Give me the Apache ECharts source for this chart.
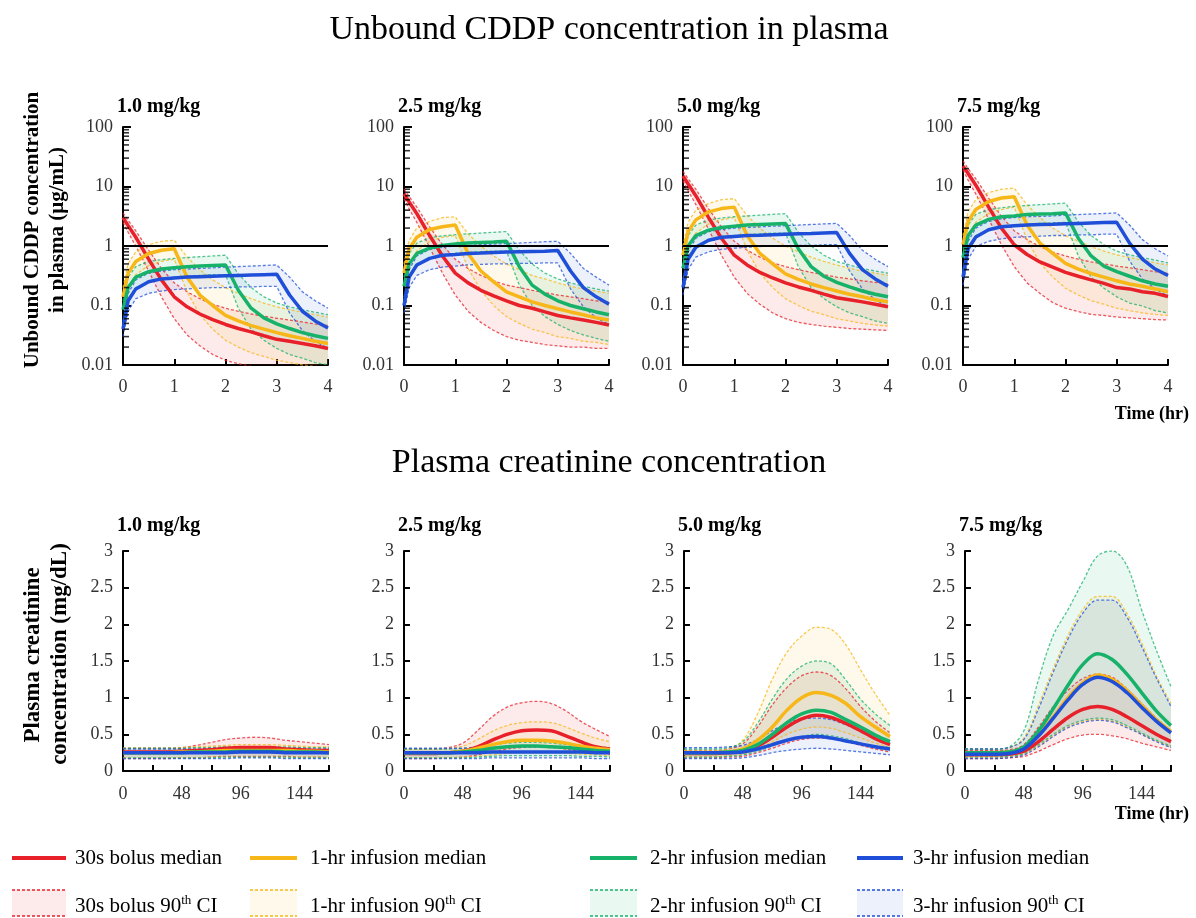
<!DOCTYPE html>
<html>
<head>
<meta charset="utf-8">
<script src="https://cdn.jsdelivr.net/npm/echarts@6/dist/echarts.min.js"></script>
<style>html,body{margin:0;padding:0;background:#fff}#c{width:1196px;height:918px}</style>
</head>
<body>
<div id="c"></div>
<script>
// ---------------- DATA ----------------
const doseTitles = ['1.0 mg/kg', '2.5 mg/kg', '5.0 mg/kg', '7.5 mg/kg'];
const regimenNames = ['30s bolus', '1-hr infusion', '2-hr infusion', '3-hr infusion'];
const cddpTime = [0, 0.1, 0.25, 0.5, 0.75, 1, 1.25, 1.5, 1.75, 2, 2.25, 2.5, 2.75, 3, 3.25, 3.5, 3.75, 4];
const creaTime = [0, 12, 24, 36, 48, 60, 72, 84, 96, 108, 120, 132, 144, 156, 168];
const logMinorTicks = [0.02,0.03,0.04,0.05,0.06,0.07,0.08,0.09,0.2,0.3,0.4,0.5,0.6,0.7,0.8,0.9,2,3,4,5,6,7,8,9,20,30,40,50,60,70,80,90];
const thresholdLine = 1;

// Unbound CDDP (ug/mL), 1.0 mg/kg
const cddp10BolusMed = [3.0,2.2,1.4,0.6,0.27,0.14,0.095,0.072,0.058,0.048,0.041,0.036,0.031,0.027,0.025,0.023,0.021,0.019];
const cddp10BolusLo  = [2.5,1.7,1.0,0.38,0.14,0.06,0.032,0.021,0.015,0.012,0.0105,0.0095,0.009,0.0085,0.0082,0.008,0.0078,0.0076];
const cddp10BolusHi  = [3.6,2.7,1.8,0.85,0.42,0.24,0.17,0.13,0.105,0.09,0.08,0.072,0.066,0.061,0.057,0.053,0.049,0.046];
const cddp10Inf1Med  = [0.14,0.35,0.55,0.75,0.85,0.9,0.3,0.15,0.1,0.068,0.055,0.046,0.04,0.035,0.031,0.028,0.025,0.023];
const cddp10Inf1Lo   = [0.09,0.2,0.33,0.47,0.55,0.6,0.17,0.07,0.04,0.026,0.02,0.016,0.014,0.012,0.011,0.01,0.0095,0.009];
const cddp10Inf1Hi   = [0.2,0.5,0.8,1.05,1.2,1.25,0.65,0.4,0.27,0.2,0.16,0.13,0.11,0.095,0.085,0.077,0.07,0.064];
const cddp10Inf2Med  = [0.085,0.2,0.3,0.37,0.41,0.43,0.45,0.46,0.47,0.48,0.18,0.09,0.062,0.049,0.041,0.035,0.031,0.028];
const cddp10Inf2Lo   = [0.055,0.13,0.2,0.25,0.28,0.3,0.31,0.32,0.33,0.33,0.09,0.04,0.026,0.019,0.015,0.013,0.011,0.01];
const cddp10Inf2Hi   = [0.12,0.3,0.45,0.55,0.59,0.62,0.64,0.66,0.68,0.7,0.34,0.2,0.14,0.11,0.095,0.085,0.077,0.07];
const cddp10Inf3Med  = [0.04,0.12,0.19,0.25,0.28,0.29,0.3,0.305,0.31,0.315,0.32,0.325,0.33,0.335,0.15,0.08,0.055,0.042];
const cddp10Inf3Lo   = [0.03,0.08,0.13,0.16,0.175,0.185,0.19,0.195,0.2,0.2,0.205,0.205,0.21,0.21,0.075,0.038,0.025,0.019];
const cddp10Inf3Hi   = [0.05,0.16,0.27,0.35,0.38,0.4,0.41,0.42,0.43,0.44,0.45,0.46,0.47,0.48,0.3,0.17,0.12,0.09];

// 2.5 mg/kg
const cddp25BolusMed = [7.5,5.5,3.5,1.5,0.68,0.35,0.24,0.18,0.145,0.12,0.1,0.09,0.078,0.068,0.062,0.057,0.052,0.047];
const cddp25BolusLo  = [6.2,4.2,2.5,0.95,0.35,0.15,0.08,0.052,0.038,0.03,0.026,0.024,0.022,0.021,0.02,0.02,0.019,0.019];
const cddp25BolusHi  = [9,6.8,4.5,2.1,1.05,0.6,0.42,0.32,0.26,0.22,0.2,0.18,0.165,0.15,0.14,0.13,0.12,0.115];
const cddp25Inf1Med  = [0.35,0.88,1.4,1.9,2.1,2.25,0.75,0.38,0.25,0.17,0.14,0.115,0.1,0.088,0.078,0.07,0.062,0.057];
const cddp25Inf1Lo   = [0.22,0.5,0.82,1.2,1.4,1.5,0.42,0.18,0.1,0.065,0.05,0.04,0.035,0.03,0.028,0.025,0.024,0.022];
const cddp25Inf1Hi   = [0.5,1.25,2.0,2.6,3.0,3.1,1.6,1.0,0.68,0.5,0.4,0.32,0.28,0.24,0.21,0.19,0.175,0.16];
const cddp25Inf2Med  = [0.21,0.5,0.75,0.92,1.02,1.08,1.12,1.15,1.17,1.2,0.45,0.22,0.155,0.12,0.1,0.088,0.078,0.07];
const cddp25Inf2Lo   = [0.14,0.32,0.5,0.62,0.7,0.75,0.78,0.8,0.82,0.82,0.22,0.1,0.065,0.048,0.038,0.032,0.028,0.025];
const cddp25Inf2Hi   = [0.3,0.75,1.12,1.38,1.48,1.55,1.6,1.65,1.7,1.75,0.85,0.5,0.35,0.28,0.24,0.21,0.19,0.175];
const cddp25Inf3Med  = [0.1,0.3,0.48,0.62,0.7,0.72,0.75,0.76,0.78,0.79,0.8,0.81,0.82,0.84,0.38,0.2,0.14,0.105];
const cddp25Inf3Lo   = [0.075,0.2,0.32,0.4,0.44,0.46,0.48,0.49,0.5,0.5,0.51,0.51,0.52,0.52,0.19,0.095,0.062,0.048];
const cddp25Inf3Hi   = [0.125,0.4,0.68,0.88,0.95,1.0,1.02,1.05,1.08,1.1,1.12,1.15,1.18,1.2,0.75,0.42,0.3,0.22];

// 5.0 mg/kg
const cddp50BolusMed = [15,11,7,3,1.35,0.7,0.48,0.36,0.29,0.24,0.205,0.18,0.155,0.135,0.125,0.115,0.105,0.095];
const cddp50BolusLo  = [12.5,8.5,5,1.9,0.7,0.3,0.16,0.105,0.075,0.06,0.052,0.048,0.045,0.043,0.041,0.04,0.039,0.038];
const cddp50BolusHi  = [18,13.5,9,4.2,2.1,1.2,0.85,0.65,0.52,0.45,0.4,0.36,0.33,0.3,0.28,0.26,0.245,0.23];
const cddp50Inf1Med  = [0.7,1.75,2.75,3.75,4.25,4.5,1.5,0.75,0.5,0.34,0.275,0.23,0.2,0.175,0.155,0.14,0.125,0.115];
const cddp50Inf1Lo   = [0.45,1.0,1.65,2.35,2.75,3.0,0.85,0.35,0.2,0.13,0.1,0.08,0.07,0.06,0.055,0.05,0.047,0.045];
const cddp50Inf1Hi   = [1.0,2.5,4.0,5.2,6.0,6.25,3.25,2.0,1.35,1.0,0.8,0.65,0.55,0.48,0.42,0.38,0.35,0.32];
const cddp50Inf2Med  = [0.42,1.0,1.5,1.85,2.05,2.15,2.25,2.3,2.35,2.4,0.9,0.45,0.31,0.245,0.205,0.175,0.155,0.14];
const cddp50Inf2Lo   = [0.28,0.65,1.0,1.25,1.4,1.5,1.55,1.6,1.65,1.65,0.45,0.2,0.13,0.095,0.075,0.065,0.055,0.05];
const cddp50Inf2Hi   = [0.6,1.5,2.25,2.75,2.95,3.1,3.2,3.3,3.4,3.5,1.7,1.0,0.7,0.55,0.48,0.42,0.38,0.35];
const cddp50Inf3Med  = [0.2,0.6,0.95,1.25,1.4,1.45,1.5,1.52,1.55,1.58,1.6,1.62,1.65,1.68,0.75,0.4,0.28,0.21];
const cddp50Inf3Lo   = [0.15,0.4,0.65,0.8,0.88,0.92,0.95,0.98,1.0,1.0,1.02,1.02,1.05,1.05,0.38,0.19,0.125,0.095];
const cddp50Inf3Hi   = [0.25,0.8,1.35,1.75,1.9,2.0,2.05,2.1,2.15,2.2,2.25,2.3,2.35,2.4,1.5,0.85,0.6,0.45];

// 7.5 mg/kg
const cddp75BolusMed = [22,16.5,10.5,4.5,2.0,1.05,0.72,0.54,0.44,0.36,0.31,0.27,0.235,0.2,0.19,0.17,0.16,0.142];
const cddp75BolusLo  = [19,12.8,7.5,2.85,1.05,0.45,0.24,0.16,0.112,0.09,0.079,0.071,0.068,0.064,0.062,0.06,0.058,0.057];
const cddp75BolusHi  = [27,20,13.5,6.4,3.15,1.8,1.28,0.98,0.79,0.68,0.6,0.54,0.5,0.46,0.43,0.4,0.37,0.345];
const cddp75Inf1Med  = [1.05,2.6,4.1,5.6,6.4,6.75,2.25,1.12,0.75,0.51,0.41,0.345,0.3,0.26,0.23,0.21,0.19,0.17];
const cddp75Inf1Lo   = [0.68,1.5,2.5,3.5,4.1,4.5,1.28,0.52,0.3,0.195,0.15,0.12,0.105,0.09,0.082,0.075,0.071,0.068];
const cddp75Inf1Hi   = [1.5,3.75,6.0,7.9,9.0,9.4,4.9,3.0,2.0,1.5,1.2,0.98,0.82,0.71,0.64,0.58,0.52,0.48];
const cddp75Inf2Med  = [0.64,1.5,2.25,2.8,3.1,3.2,3.4,3.45,3.5,3.6,1.35,0.68,0.46,0.37,0.31,0.26,0.23,0.21];
const cddp75Inf2Lo   = [0.41,0.98,1.5,1.9,2.1,2.25,2.3,2.4,2.45,2.5,0.68,0.3,0.195,0.14,0.11,0.098,0.082,0.075];
const cddp75Inf2Hi   = [0.9,2.25,3.4,4.1,4.4,4.65,4.8,4.95,5.1,5.25,2.55,1.5,1.05,0.82,0.71,0.64,0.58,0.52];
const cddp75Inf3Med  = [0.3,0.9,1.42,1.88,2.1,2.18,2.25,2.3,2.32,2.36,2.4,2.44,2.48,2.5,1.12,0.6,0.41,0.32];
const cddp75Inf3Lo   = [0.22,0.6,0.98,1.2,1.32,1.4,1.42,1.46,1.5,1.5,1.54,1.54,1.58,1.58,0.56,0.28,0.19,0.142];
const cddp75Inf3Hi   = [0.38,1.2,2.0,2.6,2.85,3.0,3.1,3.15,3.2,3.3,3.38,3.45,3.52,3.6,2.25,1.28,0.9,0.68];

// Plasma creatinine (mg/dL), 1.0 mg/kg
const crea10BolusMed = [0.26,0.26,0.26,0.26,0.27,0.28,0.29,0.31,0.32,0.32,0.32,0.3,0.29,0.28,0.28];
const crea10BolusLo  = [0.17,0.17,0.17,0.17,0.18,0.18,0.19,0.2,0.2,0.2,0.2,0.2,0.19,0.19,0.18];
const crea10BolusHi  = [0.31,0.31,0.31,0.31,0.32,0.35,0.39,0.43,0.45,0.46,0.45,0.42,0.4,0.38,0.36];
const crea10Inf1Med  = [0.25,0.25,0.25,0.25,0.26,0.26,0.27,0.28,0.28,0.28,0.28,0.28,0.27,0.27,0.26];
const crea10Inf1Lo   = [0.18,0.18,0.18,0.18,0.18,0.18,0.19,0.19,0.19,0.19,0.19,0.19,0.19,0.19,0.18];
const crea10Inf1Hi   = [0.31,0.31,0.31,0.31,0.32,0.33,0.34,0.35,0.36,0.36,0.36,0.35,0.34,0.33,0.33];
const crea10Inf2Med  = [0.25,0.25,0.25,0.25,0.25,0.26,0.26,0.26,0.27,0.27,0.27,0.26,0.26,0.26,0.25];
const crea10Inf2Lo   = [0.18,0.18,0.18,0.18,0.18,0.18,0.18,0.19,0.19,0.19,0.19,0.19,0.18,0.18,0.18];
const crea10Inf2Hi   = [0.31,0.31,0.31,0.31,0.31,0.32,0.32,0.33,0.33,0.33,0.33,0.33,0.32,0.32,0.32];
const crea10Inf3Med  = [0.25,0.25,0.25,0.25,0.25,0.25,0.25,0.25,0.26,0.26,0.26,0.25,0.25,0.25,0.25];
const crea10Inf3Lo   = [0.17,0.17,0.17,0.17,0.17,0.17,0.17,0.17,0.18,0.18,0.18,0.17,0.17,0.17,0.17];
const crea10Inf3Hi   = [0.3,0.3,0.3,0.3,0.3,0.3,0.31,0.31,0.31,0.31,0.31,0.31,0.31,0.3,0.3];

// 2.5 mg/kg
const crea25BolusMed = [0.24,0.24,0.24,0.25,0.27,0.33,0.42,0.5,0.55,0.56,0.55,0.48,0.4,0.33,0.3];
const crea25BolusLo  = [0.17,0.17,0.17,0.18,0.19,0.22,0.26,0.3,0.32,0.33,0.32,0.3,0.27,0.25,0.23];
const crea25BolusHi  = [0.3,0.3,0.3,0.32,0.38,0.55,0.74,0.87,0.93,0.95,0.92,0.82,0.68,0.57,0.47];
const crea25Inf1Med  = [0.25,0.25,0.25,0.25,0.27,0.31,0.36,0.4,0.42,0.42,0.41,0.38,0.34,0.31,0.29];
const crea25Inf1Lo   = [0.18,0.18,0.18,0.18,0.19,0.2,0.22,0.24,0.25,0.25,0.25,0.24,0.23,0.22,0.21];
const crea25Inf1Hi   = [0.3,0.3,0.3,0.31,0.34,0.43,0.54,0.62,0.66,0.67,0.66,0.6,0.52,0.45,0.4];
const crea25Inf2Med  = [0.25,0.25,0.25,0.25,0.26,0.28,0.31,0.33,0.34,0.34,0.33,0.32,0.3,0.28,0.27];
const crea25Inf2Lo   = [0.18,0.18,0.18,0.18,0.18,0.19,0.2,0.21,0.21,0.21,0.21,0.21,0.2,0.2,0.19];
const crea25Inf2Hi   = [0.3,0.3,0.3,0.3,0.31,0.33,0.36,0.38,0.39,0.39,0.38,0.36,0.34,0.33,0.32];
const crea25Inf3Med  = [0.25,0.25,0.25,0.25,0.25,0.25,0.26,0.26,0.26,0.26,0.26,0.26,0.26,0.25,0.25];
const crea25Inf3Lo   = [0.17,0.17,0.17,0.17,0.17,0.17,0.18,0.18,0.18,0.18,0.18,0.18,0.18,0.17,0.17];
const crea25Inf3Hi   = [0.31,0.31,0.31,0.31,0.31,0.32,0.32,0.33,0.33,0.33,0.33,0.33,0.32,0.32,0.31];

// 5.0 mg/kg
const crea50BolusMed = [0.24,0.24,0.24,0.25,0.27,0.34,0.46,0.6,0.71,0.76,0.73,0.65,0.55,0.44,0.36];
const crea50BolusLo  = [0.18,0.18,0.18,0.19,0.2,0.25,0.31,0.38,0.43,0.45,0.44,0.4,0.35,0.3,0.26];
const crea50BolusHi  = [0.28,0.28,0.28,0.3,0.37,0.6,0.9,1.14,1.3,1.35,1.3,1.12,0.88,0.68,0.52];
const crea50Inf1Med  = [0.25,0.25,0.25,0.26,0.3,0.42,0.6,0.83,1.0,1.07,1.03,0.92,0.74,0.6,0.47];
const crea50Inf1Lo   = [0.2,0.2,0.2,0.21,0.23,0.3,0.4,0.5,0.57,0.6,0.58,0.52,0.45,0.38,0.32];
const crea50Inf1Hi   = [0.28,0.28,0.28,0.3,0.42,0.78,1.25,1.62,1.84,1.96,1.93,1.72,1.38,1.05,0.76];
const crea50Inf2Med  = [0.25,0.25,0.25,0.26,0.28,0.36,0.5,0.66,0.78,0.83,0.8,0.7,0.6,0.49,0.4];
const crea50Inf2Lo   = [0.19,0.19,0.19,0.2,0.22,0.27,0.34,0.42,0.47,0.5,0.48,0.44,0.38,0.32,0.28];
const crea50Inf2Hi   = [0.3,0.3,0.3,0.32,0.4,0.65,0.98,1.26,1.43,1.5,1.46,1.24,0.98,0.78,0.62];
const crea50Inf3Med  = [0.25,0.25,0.25,0.25,0.26,0.3,0.36,0.42,0.46,0.47,0.45,0.41,0.37,0.33,0.3];
const crea50Inf3Lo   = [0.17,0.17,0.17,0.17,0.18,0.21,0.25,0.28,0.3,0.31,0.3,0.28,0.26,0.24,0.22];
const crea50Inf3Hi   = [0.32,0.32,0.32,0.33,0.35,0.43,0.55,0.65,0.71,0.72,0.7,0.63,0.54,0.45,0.38];

// 7.5 mg/kg
const crea75BolusMed = [0.22,0.22,0.22,0.23,0.27,0.4,0.57,0.73,0.84,0.88,0.84,0.74,0.62,0.5,0.4];
const crea75BolusLo  = [0.17,0.17,0.17,0.18,0.2,0.27,0.36,0.44,0.49,0.5,0.48,0.44,0.38,0.33,0.28];
const crea75BolusHi  = [0.28,0.28,0.28,0.29,0.36,0.6,0.88,1.1,1.26,1.32,1.28,1.12,0.92,0.72,0.55];
const crea75Inf1Med  = [0.25,0.25,0.25,0.26,0.31,0.5,0.74,1.0,1.2,1.31,1.25,1.1,0.9,0.7,0.54];
const crea75Inf1Lo   = [0.19,0.19,0.19,0.2,0.23,0.34,0.48,0.6,0.67,0.7,0.68,0.6,0.5,0.41,0.33];
const crea75Inf1Hi   = [0.3,0.3,0.3,0.32,0.45,0.9,1.4,1.85,2.2,2.38,2.38,2.15,1.75,1.3,0.92];
const crea75Inf2Med  = [0.25,0.25,0.25,0.26,0.33,0.55,0.85,1.17,1.45,1.6,1.52,1.32,1.07,0.82,0.62];
const crea75Inf2Lo   = [0.19,0.19,0.19,0.2,0.24,0.36,0.5,0.62,0.69,0.72,0.7,0.62,0.52,0.42,0.34];
const crea75Inf2Hi   = [0.3,0.3,0.3,0.33,0.55,1.25,1.85,2.2,2.58,2.93,3.0,2.8,2.2,1.65,1.15];
const crea75Inf3Med  = [0.23,0.23,0.23,0.24,0.3,0.48,0.72,0.97,1.18,1.28,1.22,1.07,0.87,0.68,0.52];
const crea75Inf3Lo   = [0.17,0.17,0.17,0.18,0.22,0.33,0.47,0.59,0.66,0.69,0.67,0.59,0.5,0.4,0.32];
const crea75Inf3Hi   = [0.3,0.3,0.3,0.32,0.43,0.85,1.35,1.8,2.15,2.33,2.33,2.1,1.7,1.27,0.88];

// ---------------- STYLE / LAYOUT ----------------
const FONT = "'Liberation Serif','Times New Roman',serif";
const LINE_COLORS = ['#e8202a', '#f7b718', '#17b26a', '#1f4fd8'];
const FILL_COLORS = ['rgba(232,32,42,0.09)', 'rgba(247,183,24,0.09)', 'rgba(23,178,106,0.09)', 'rgba(31,79,216,0.08)'];
const SMOOTH = 0.35;
const topLefts = [123, 404, 683, 963];
const botLefts = [123, 404, 684, 965];

const cddpPanels = [
  [[cddp10BolusMed, cddp10BolusLo, cddp10BolusHi], [cddp10Inf1Med, cddp10Inf1Lo, cddp10Inf1Hi], [cddp10Inf2Med, cddp10Inf2Lo, cddp10Inf2Hi], [cddp10Inf3Med, cddp10Inf3Lo, cddp10Inf3Hi]],
  [[cddp25BolusMed, cddp25BolusLo, cddp25BolusHi], [cddp25Inf1Med, cddp25Inf1Lo, cddp25Inf1Hi], [cddp25Inf2Med, cddp25Inf2Lo, cddp25Inf2Hi], [cddp25Inf3Med, cddp25Inf3Lo, cddp25Inf3Hi]],
  [[cddp50BolusMed, cddp50BolusLo, cddp50BolusHi], [cddp50Inf1Med, cddp50Inf1Lo, cddp50Inf1Hi], [cddp50Inf2Med, cddp50Inf2Lo, cddp50Inf2Hi], [cddp50Inf3Med, cddp50Inf3Lo, cddp50Inf3Hi]],
  [[cddp75BolusMed, cddp75BolusLo, cddp75BolusHi], [cddp75Inf1Med, cddp75Inf1Lo, cddp75Inf1Hi], [cddp75Inf2Med, cddp75Inf2Lo, cddp75Inf2Hi], [cddp75Inf3Med, cddp75Inf3Lo, cddp75Inf3Hi]]
];
const creaPanels = [
  [[crea10BolusMed, crea10BolusLo, crea10BolusHi], [crea10Inf1Med, crea10Inf1Lo, crea10Inf1Hi], [crea10Inf2Med, crea10Inf2Lo, crea10Inf2Hi], [crea10Inf3Med, crea10Inf3Lo, crea10Inf3Hi]],
  [[crea25BolusMed, crea25BolusLo, crea25BolusHi], [crea25Inf1Med, crea25Inf1Lo, crea25Inf1Hi], [crea25Inf2Med, crea25Inf2Lo, crea25Inf2Hi], [crea25Inf3Med, crea25Inf3Lo, crea25Inf3Hi]],
  [[crea50BolusMed, crea50BolusLo, crea50BolusHi], [crea50Inf1Med, crea50Inf1Lo, crea50Inf1Hi], [crea50Inf2Med, crea50Inf2Lo, crea50Inf2Hi], [crea50Inf3Med, crea50Inf3Lo, crea50Inf3Hi]],
  [[crea75BolusMed, crea75BolusLo, crea75BolusHi], [crea75Inf1Med, crea75Inf1Lo, crea75Inf1Hi], [crea75Inf2Med, crea75Inf2Lo, crea75Inf2Hi], [crea75Inf3Med, crea75Inf3Lo, crea75Inf3Hi]]
];

// pixel-space smoothing that mirrors the line series' "smooth" curve
function smoothSegs(pts, smooth) {
  const segs = [];
  let cpx0 = pts[0][0], cpy0 = pts[0][1];
  for (let i = 1; i < pts.length; i++) {
    const x = pts[i][0], y = pts[i][1], px = pts[i - 1][0], py = pts[i - 1][1];
    let cpx1, cpy1, ncx = x, ncy = y;
    if (i === pts.length - 1) { cpx1 = x; cpy1 = y; }
    else {
      const nx = pts[i + 1][0], ny = pts[i + 1][1];
      let vx = nx - px, vy = ny - py;
      const l0 = Math.hypot(x - px, y - py) || 1e-6, l1 = Math.hypot(nx - x, ny - y) || 1e-6;
      const r = l1 / (l0 + l1);
      ncx = x + vx * smooth * r; ncy = y + vy * smooth * r;
      ncx = Math.min(ncx, Math.max(nx, x)); ncy = Math.min(ncy, Math.max(ny, y));
      ncx = Math.max(ncx, Math.min(nx, x)); ncy = Math.max(ncy, Math.min(ny, y));
      vx = ncx - x; vy = ncy - y;
      cpx1 = x - vx * l0 / l1; cpy1 = y - vy * l0 / l1;
      cpx1 = Math.min(cpx1, Math.max(px, x)); cpy1 = Math.min(cpy1, Math.max(py, y));
      cpx1 = Math.max(cpx1, Math.min(px, x)); cpy1 = Math.max(cpy1, Math.min(py, y));
      vx = x - cpx1; vy = y - cpy1;
      ncx = x + vx * l1 / l0; ncy = y + vy * l1 / l0;
    }
    segs.push('C' + [cpx0, cpy0, cpx1, cpy1, x, y].map(v => v.toFixed(2)).join(','));
    cpx0 = ncx; cpy0 = ncy;
  }
  return segs.join('');
}

const grids = [], xAxes = [], yAxes = [], series = [];
const axisLineStyle = { show: true, lineStyle: { color: '#000', width: 2 } };
const labelStyle = { color: '#333', fontFamily: FONT, fontSize: 18 };
const pair = (xs, ys) => xs.map((x, i) => [x, ys[i]]);

// Top panels (log scale)
cddpPanels.forEach((panel, g) => {
  grids.push({ left: topLefts[g], top: 127, width: 205, height: 238 });
  xAxes.push({ type: 'value', gridIndex: g, min: 0, max: 4, interval: 1,
    axisLine: axisLineStyle, axisTick: { show: true, inside: true, length: 6, lineStyle: { color: '#000', width: 2 } },
    axisLabel: { ...labelStyle, margin: 13 }, splitLine: { show: false } });
  yAxes.push({ type: 'log', logBase: 10, gridIndex: g, min: 0.01, max: 100,
    axisLine: axisLineStyle, axisTick: { show: true, inside: true, length: 8, lineStyle: { color: '#000', width: 2 } },
    axisLabel: { ...labelStyle, margin: 10, formatter: v => String(+v.toPrecision(3)) }, splitLine: { show: false } });
  panel.forEach((r, k) => {
    const lo = r[1], hi = r[2];
    series.push({ type: 'custom', xAxisIndex: g, yAxisIndex: g, silent: true, z: 1, data: [[0, 1]],
      renderItem: (params, api) => {
        const cs = params.coordSys;
        const cy = y => Math.max(cs.y, Math.min(cs.y + cs.height, y));
        const pts = [];
        cddpTime.forEach((t, i) => { const p = api.coord([t, hi[i]]); pts.push([p[0], cy(p[1])]); });
        for (let i = cddpTime.length - 1; i >= 0; i--) { const p = api.coord([cddpTime[i], lo[i]]); pts.push([p[0], cy(p[1])]); }
        return { type: 'polygon', shape: { points: pts }, style: { fill: FILL_COLORS[k] } };
      } });
  });
  panel.forEach((r, k) => {
    [r[1], r[2]].forEach(arr => series.push({ type: 'line', xAxisIndex: g, yAxisIndex: g, silent: true, z: 2,
      symbol: 'none', data: pair(cddpTime, arr), lineStyle: { color: LINE_COLORS[k], width: 1.3, type: [3, 2], opacity: 0.75 } }));
  });
  series.push({ type: 'line', xAxisIndex: g, yAxisIndex: g, silent: true, z: 3, symbol: 'none', data: [],
    markLine: { silent: true, symbol: 'none', label: { show: false }, animation: false,
      lineStyle: { color: '#000', width: 2, type: 'solid' }, data: [{ yAxis: thresholdLine }] } });
  panel.forEach((r, k) => {
    series.push({ type: 'line', xAxisIndex: g, yAxisIndex: g, silent: true, z: 4, symbol: 'none',
      data: pair(cddpTime, r[0]), lineStyle: { color: LINE_COLORS[k], width: 3.5 } });
  });
  series.push({ type: 'scatter', xAxisIndex: g, yAxisIndex: g, silent: true, z: 6, clip: false,
    symbol: 'rect', symbolSize: [5, 1.6], symbolOffset: [3.5, 0], itemStyle: { color: '#000' },
    data: logMinorTicks.map(v => [0, v]) });
});

// Bottom panels (linear)
creaPanels.forEach((panel, p) => {
  const g = p + 4;
  grids.push({ left: botLefts[p], top: 551, width: 206, height: 220 });
  xAxes.push({ type: 'value', gridIndex: g, min: 0, max: 168, interval: 24,
    axisLine: axisLineStyle, axisTick: { show: true, inside: true, length: 6, lineStyle: { color: '#000', width: 2 } },
    axisLabel: { ...labelStyle, margin: 14, formatter: v => (v % 48 === 0 ? String(v) : '') }, splitLine: { show: false } });
  yAxes.push({ type: 'value', gridIndex: g, min: 0, max: 3, interval: 0.5,
    axisLine: axisLineStyle, axisTick: { show: true, inside: true, length: 6, lineStyle: { color: '#000', width: 2 } },
    axisLabel: { ...labelStyle, margin: 10 }, splitLine: { show: false } });
  panel.forEach((r, k) => {
    const lo = r[1], hi = r[2];
    series.push({ type: 'custom', xAxisIndex: g, yAxisIndex: g, silent: true, z: 1, data: [[0, 1]],
      renderItem: (params, api) => {
        const top = creaTime.map((t, i) => api.coord([t, hi[i]]));
        const bot = creaTime.map((t, i) => api.coord([t, lo[i]])).reverse();
        const d = 'M' + top[0][0].toFixed(2) + ',' + top[0][1].toFixed(2) + smoothSegs(top, SMOOTH) +
          'L' + bot[0][0].toFixed(2) + ',' + bot[0][1].toFixed(2) + smoothSegs(bot, SMOOTH) + 'Z';
        return { type: 'path', shape: { pathData: d }, style: { fill: FILL_COLORS[k] } };
      } });
  });
  panel.forEach((r, k) => {
    [r[1], r[2]].forEach(arr => series.push({ type: 'line', xAxisIndex: g, yAxisIndex: g, silent: true, z: 2,
      symbol: 'none', smooth: SMOOTH, data: pair(creaTime, arr), lineStyle: { color: LINE_COLORS[k], width: 1.3, type: [3, 2], opacity: 0.75 } }));
  });
  panel.forEach((r, k) => {
    series.push({ type: 'line', xAxisIndex: g, yAxisIndex: g, silent: true, z: 4, symbol: 'none', smooth: SMOOTH,
      data: pair(creaTime, r[0]), lineStyle: { color: LINE_COLORS[k], width: 3.5 } });
  });
});

// ---------------- GRAPHIC TEXT / LEGEND ----------------
const graphic = [];
const txt = (x, y, text, size, bold, align) => ({ type: 'text', x, y, silent: true,
  style: { text, fontFamily: FONT, fontSize: size, fontWeight: bold ? 'bold' : 'normal', fill: '#000',
    textAlign: align || 'left', textVerticalAlign: 'middle' } });
graphic.push(txt(609, 30, 'Unbound CDDP concentration in plasma', 34, false, 'center'));
graphic.push(txt(609, 463, 'Plasma creatinine concentration', 34, false, 'center'));
doseTitles.forEach((t, i) => {
  graphic.push(txt(topLefts[i] - 6, 107, t, 20, true));
  graphic.push(txt(botLefts[i] - 6, 526, t, 20, true));
});
const yName = (x, y, text, size) => ({ type: 'text', x, y, rotation: Math.PI / 2, silent: true,
  style: { text, fontFamily: FONT, fontSize: size, fontWeight: 'bold', fill: '#000', textAlign: 'center', textVerticalAlign: 'middle' } });
graphic.push(yName(33, 230, 'Unbound CDDP concentration', 21));
graphic.push(yName(58, 230, 'in plasma (μg/mL)', 21));
graphic.push(yName(33, 655, 'Plasma creatinine', 23));
graphic.push(yName(60, 654, 'concentration (mg/dL)', 23));
graphic.push(txt(1189, 414, 'Time (hr)', 18, true, 'right'));
graphic.push(txt(1189, 814, 'Time (hr)', 18, true, 'right'));

const legX = [[12, 66, 75], [250, 297, 310], [590, 637, 650], [857, 903, 913]];
regimenNames.forEach((name, k) => {
  const [x1, x2, tx] = legX[k];
  graphic.push({ type: 'line', silent: true, shape: { x1, y1: 858, x2, y2: 858 }, style: { stroke: LINE_COLORS[k], lineWidth: 4 } });
  graphic.push(txt(tx, 858, name + ' median', 21, false));
  graphic.push({ type: 'rect', silent: true, shape: { x: x1, y: 890, width: x2 - x1, height: 26 }, style: { fill: FILL_COLORS[k] } });
  graphic.push({ type: 'line', silent: true, shape: { x1, y1: 890, x2, y2: 890 }, style: { stroke: LINE_COLORS[k], lineWidth: 1.5, lineDash: [3, 2] } });
  graphic.push({ type: 'line', silent: true, shape: { x1, y1: 916, x2, y2: 916 }, style: { stroke: LINE_COLORS[k], lineWidth: 1.5, lineDash: [3, 2] } });
  graphic.push({ type: 'text', x: tx, y: 906, silent: true, style: {
    text: name + ' 90{sup|th} CI', fontFamily: FONT, fontSize: 21, fill: '#000', textAlign: 'left', textVerticalAlign: 'middle',
    rich: { sup: { fontFamily: FONT, fontSize: 13, verticalAlign: 'top', padding: [0, 0, 10, 0], fill: '#000' } } } });
});

const chart = echarts.init(document.getElementById('c'), null, { renderer: 'canvas' });
chart.setOption({ animation: false, backgroundColor: '#fff', grid: grids, xAxis: xAxes, yAxis: yAxes, series, graphic });
</script>
</body>
</html>
